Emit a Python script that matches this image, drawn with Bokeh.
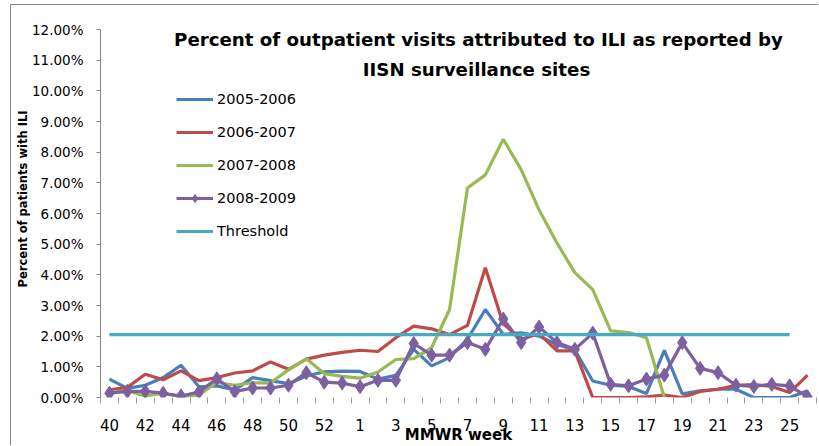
import numpy as np
from bokeh.plotting import figure
from bokeh.models import (FixedTicker, PrintfTickFormatter, Label, Legend,
                          LegendItem, Range1d, Title)
from bokeh.embed import file_html
from bokeh.resources import INLINE

# ---------------- data ----------------
weeks = ["40", "41", "42", "43", "44", "45", "46", "47", "48", "49", "50",
         "51", "52", "53", "1", "2", "3", "4", "5", "6", "7", "8", "9", "10",
         "11", "12", "13", "14", "15", "16", "17", "18", "19", "20", "21",
         "22", "23", "24", "25", "26"]

s2005 = [0.60, 0.30, 0.40, 0.65, 1.05, 0.35, 0.38, 0.25, 0.65, 0.55, 0.45,
         0.70, 0.84, 0.86, 0.85, 0.60, 0.72, 1.57, 1.03, 1.30, 1.90, 2.87,
         2.06, 2.11, 2.00, 1.73, 1.55, 0.54, 0.40, 0.36, 0.13, 1.54, 0.12,
         0.22, 0.27, 0.27, 0.00, 0.00, 0.00, 0.22]

s2006 = [0.25, 0.33, 0.76, 0.58, 0.87, 0.55, 0.65, 0.80, 0.87, 1.16, 0.92,
         1.25, 1.38, 1.47, 1.54, 1.50, 1.95, 2.33, 2.24, 2.05, 2.35, 4.23,
         2.40, 1.90, 2.08, 1.52, 1.52, 0.00, 0.00, 0.00, 0.02, 0.08, 0.00,
         0.20, 0.27, 0.40, 0.42, 0.36, 0.16, 0.73]

s2007 = [0.18, 0.22, 0.05, 0.14, 0.02, 0.08, 0.49, 0.40, 0.48, 0.48, 0.90,
         1.26, 0.78, 0.69, 0.63, 0.83, 1.24, 1.27, 1.63, 2.87, 6.83, 7.26,
         8.42, 7.43, 6.12, 5.04, 4.07, 3.52, 2.17, 2.12, 1.95, 0.00, None,
         None, None, None, None, None, None, None]

s2008 = [0.14, 0.20, 0.20, 0.14, 0.05, 0.18, 0.61, 0.19, 0.31, 0.31, 0.40,
         0.81, 0.50, 0.47, 0.35, 0.56, 0.56, 1.76, 1.38, 1.38, 1.79, 1.57,
         2.56, 1.79, 2.30, 1.79, 1.57, 2.10, 0.43, 0.38, 0.60, 0.73, 1.79,
         0.95, 0.81, 0.40, 0.36, 0.43, 0.38, 0.02]

threshold = [2.05] * 39 + [None]

y_ticks = [0, 1, 2, 3, 4, 5, 6, 7, 8, 9, 10, 11, 12]

series = [
    ("2005-2006", s2005, "#4A7EBB"),
    ("2006-2007", s2006, "#BE4B48"),
    ("2007-2008", s2007, "#98B954"),
]

# ---------------- figure ----------------
xs = list(range(len(weeks)))
p = figure(width=808, height=441, output_backend="svg", toolbar_location=None,
           x_range=Range1d(-0.5, len(weeks) - 0.5), y_range=Range1d(0, 12),
           min_border_left=89, min_border_right=3, min_border_top=24,
           min_border_bottom=48)
p.styles = {"margin-left": "10px", "margin-top": "4px",
            "border-top": "1px solid #868686", "border-left": "1px solid #868686"}
p.xgrid.visible = False
p.ygrid.visible = False
p.outline_line_color = None
p.background_fill_color = "white"
p.border_fill_color = "white"

def arr(v):
    return np.array([np.nan if a is None else a for a in v], dtype=float)

items = []
for name, vals, col in series:
    r = p.line(xs, arr(vals), line_color=col, line_width=3.2)
    items.append(LegendItem(label=name, renderers=[r]))

pl = p.line(xs, arr(s2008), line_color="#7D60A0", line_width=3.2)
ps = p.scatter(xs, arr(s2008), marker="diamond", size=14,
               fill_color="#7D60A0", line_color="#7D60A0")
items.append(LegendItem(label="2008-2009", renderers=[pl, ps]))

rt = p.line(xs, arr(threshold), line_color="#46AAC5", line_width=3.2)
items.append(LegendItem(label="Threshold", renderers=[rt]))

legend = Legend(items=items, location=(76, 156), padding=0, margin=0,
                spacing=13, glyph_width=37, glyph_height=20, label_height=20,
                label_standoff=4, border_line_color=None,
                background_fill_alpha=0, label_text_font="DejaVu Sans",
                label_text_font_size="14.5px", label_text_color="black")
p.add_layout(legend)

# x axis
xa = p.xaxis[0]
even = [i for i in xs if i % 2 == 0]
xa.ticker = FixedTicker(ticks=even, minor_ticks=[i - 0.5 for i in range(len(weeks) + 1)])
xa.major_label_overrides = {i: weeks[i] for i in even}
xa.axis_line_color = None
xa.major_tick_out = 0
xa.major_tick_in = 0
xa.major_tick_line_color = None
xa.minor_tick_line_color = "#9a9a9a"
xa.minor_tick_out = 6
xa.minor_tick_in = 0
xa.major_label_standoff = 15
xa.major_label_text_font = "DejaVu Sans"
xa.major_label_text_font_size = "15px"
xa.major_label_text_color = "black"
xa.axis_label = "MMWR week"
xa.axis_label_standoff = -8
xa.axis_label_text_font = "DejaVu Sans"
xa.axis_label_text_font_size = "15px"
xa.axis_label_text_font_style = "bold"
xa.axis_label_text_color = "black"

# y axis
ya = p.yaxis[0]
ya.ticker = FixedTicker(ticks=y_ticks)
ya.formatter = PrintfTickFormatter(format="%.2f%%")
ya.axis_line_color = "#868686"
ya.major_tick_line_color = "#868686"
ya.major_tick_out = 4
ya.major_tick_in = 0
ya.minor_tick_line_color = None
ya.major_label_standoff = 13
ya.major_label_text_font = "DejaVu Sans"
ya.major_label_text_font_size = "13.5px"
ya.major_label_text_color = "black"

ytitle = Title(text="Percent of patients with ILI", align="left", offset=110,
               standoff=0, text_font="DejaVu Sans", text_font_size="11.5px",
               text_font_style="bold", text_color="black")
p.add_layout(ytitle, "left")

# chart title (inside the plot area)
common = dict(x_units="screen", y_units="screen", text_align="center",
              text_baseline="middle", text_font_style="bold", text_color="black",
              text_font="DejaVu Sans", text_font_size="18.2px")
p.add_layout(Label(x=378, y=358,
                   text="Percent of outpatient visits attributed to ILI as reported by",
                   **common))
p.add_layout(Label(x=376, y=328, text="IISN surveillance sites", **common))

open("out.html", "w").write(file_html(p, INLINE))
